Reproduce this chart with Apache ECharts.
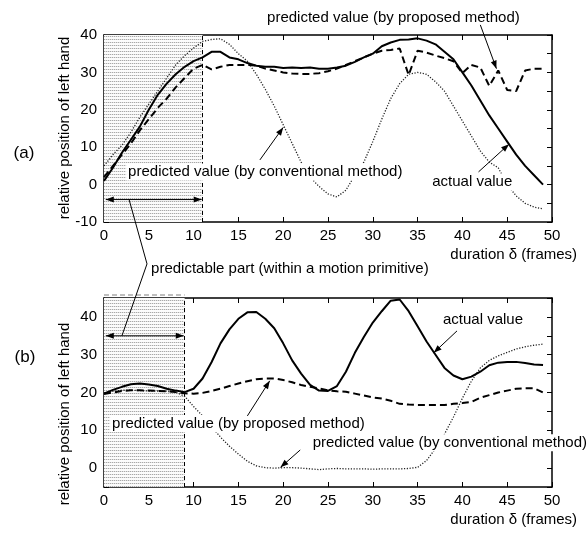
<!DOCTYPE html>
<html><head><meta charset="utf-8">
<script src="https://cdn.jsdelivr.net/npm/echarts@6/dist/echarts.min.js"></script>
<style>html,body{margin:0;padding:0;background:#fff}#c{width:588px;height:533px}</style>
</head><body><div id="c"></div><script>
const frames = [0,1,2,3,4,5,6,7,8,9,10,11,12,13,14,15,16,17,18,19,20,21,22,23,24,25,26,27,28,29,30,31,32,33,34,35,36,37,38,39,40,41,42,43,44,45,46,47,48,49];
// (a)
const topActual = [1,4.5,8.5,12,15.5,20,24,27,29.5,31.5,33,34,35.5,35.5,34,33.5,32.5,31.8,31.5,31.5,31.2,31.3,31.2,31.3,31,31,31.3,31.8,32.8,34,35,37,38,38.7,38.8,39.1,38.5,37.5,35.5,33.5,30,26.5,22.5,18.5,15,11.5,8,5,2.5,0];
const topProposed = [2,5,8,11,14.5,17.5,20.5,23,26,28.5,31,32,30.8,31.5,32,32,32,31.8,31,30.5,30,29.7,29.6,29.6,29.8,30.3,31,32,33,34,35,35.8,36,36.4,29.3,35.8,35.3,34.5,33.8,33,29.8,32,31.3,26.4,30.5,25.3,25,30.5,31,31];
const topConventional = [5,8,10.5,14,18,21.5,25,28.5,32,34.5,36.5,38.3,38.8,39,37.5,35,33,29.5,25.5,21,16,11,6,2,-0.5,-2.5,-3.3,-1.5,2.5,6,11.5,17.5,23,27,29.5,30,29.5,27.5,25,21,17,13,9,6,4.5,0,-3,-5,-6,-6.5];
// (b)
const botActual = [19.7,20.7,21.5,22.2,22.4,22.1,21.7,21,20.5,20.1,21,23.7,28,33,36.7,39.5,41.2,41.3,39.5,37,33,28.5,25,22,20.5,20.4,21.7,25.5,30.5,34.7,38.5,41.5,44.3,44.6,41.5,37.5,33.5,30,26.5,24.5,23.5,24.2,25.5,27.2,27.9,28.1,28.1,27.8,27.4,27.3];
const botProposed = [19.6,20,20.4,20.6,20.6,20.5,20.4,20.3,20.1,19.8,19.7,19.9,20.4,21,21.7,22.4,23,23.5,23.7,23.7,23.3,22.7,22,21.5,21.1,20.6,20.3,20.2,19.7,19.2,18.7,18.4,17.8,17,16.8,16.7,16.7,16.7,16.7,17,17.2,17.5,18.6,19.3,20,20.5,21,21.1,21.1,20];
const botConventional = [19.9,20.3,20.6,20.6,20.5,20.4,20.4,20.3,20.1,19,16.3,13.8,11,8.2,5.8,3.7,1.8,0.6,0.1,0,0.1,0.1,0,-0.2,-0.4,-0.2,-0.1,-0.2,-0.2,-0.2,-0.3,-0.2,-0.2,-0.2,-0.1,0.2,2,5.2,9,13.5,18.5,23,26.5,28.5,29.7,30.6,31.5,32.1,32.5,32.8];
const predictableEnd = [11, 9];
const xRange = [0, 50];
const yRangeTop = [-10, 40];
const yRangeBot = [-5, 45];
const xLabel = 'duration \u03b4 (frames)';
const yLabel = 'relative position of left hand';

const FONT = '"Liberation Sans", Arial, sans-serif';
const chart = echarts.init(document.getElementById('c'), null, {renderer: 'canvas'});

function pattern() {
  const c = document.createElement('canvas');
  c.width = 2; c.height = 3;
  const ctx = c.getContext('2d');
  ctx.fillStyle = '#fbfbfb'; ctx.fillRect(0, 0, 2, 3);
  ctx.fillStyle = '#a8a8a8'; ctx.fillRect(0, 0, 1, 1);
  ctx.fillStyle = '#e2e2e2'; ctx.fillRect(1, 0, 1, 1);
  return c;
}
const pat = pattern();

const pair = arr => frames.map((f, i) => [f, arr[i]]);
const labFmt = v => (v % 10 === 0 ? String(v) : '');

function xAx(g, pos) {
  return {gridIndex: g, type: 'value', position: pos, min: xRange[0], max: xRange[1], interval: 5,
    axisLine: {show: true, onZero: false, lineStyle: {color: '#000', width: 1.5}},
    axisTick: {show: true, inside: true, length: 5, lineStyle: {color: '#000', width: 1}},
    axisLabel: {show: pos === 'bottom', color: '#000', fontSize: 15, fontFamily: FONT, margin: 6},
    splitLine: {show: false}};
}
function yAx(g, pos, r) {
  return {gridIndex: g, type: 'value', position: pos, min: r[0], max: r[1], interval: 5,
    axisLine: {show: true, onZero: false, lineStyle: {color: '#000', width: 1.5}},
    axisTick: {show: true, inside: true, length: 5, lineStyle: {color: '#000', width: 1}},
    axisLabel: {show: pos === 'left', color: '#000', fontSize: 15, fontFamily: FONT, margin: 7, formatter: labFmt},
    splitLine: {show: false}};
}
function line(g, arr, kind, extra) {
  const st = {solid: {width: 2, type: 'solid', color: '#000'},
              dashed: {width: 2, type: [7, 4], color: '#000'},
              dotted: {width: 1.3, type: [1.2, 1.6], color: '#222'}}[kind];
  return Object.assign({type: 'line', xAxisIndex: g * 2, yAxisIndex: g * 2, data: pair(arr), showSymbol: false,
    symbol: 'none', lineStyle: st, silent: true, animation: false, clip: true,
    z: kind === 'solid' ? 4 : (kind === 'dashed' ? 3 : 2)}, extra || {});
}
function shade(g) {
  return {
    markArea: {silent: true, itemStyle: {color: {image: pat, repeat: 'repeat'}}, data: [[{xAxis: 0}, {xAxis: predictableEnd[g]}]]},
    markLine: {silent: true, symbol: 'none', label: {show: false}, lineStyle: {color: '#000', type: [4, 3], width: 1}, data: [{xAxis: predictableEnd[g]}]}
  };
}

chart.setOption({
  animation: false,
  backgroundColor: '#fff',
  grid: [{left: 104, top: 35, width: 448, height: 187}, {left: 104, top: 298, width: 448, height: 189}],
  xAxis: [xAx(0, 'bottom'), xAx(0, 'top'), xAx(1, 'bottom'), xAx(1, 'top')],
  yAxis: [yAx(0, 'left', yRangeTop), yAx(0, 'right', yRangeTop), yAx(1, 'left', yRangeBot), yAx(1, 'right', yRangeBot)],
  series: [
    line(0, topConventional, 'dotted', shade(0)), line(0, topProposed, 'dashed'), line(0, topActual, 'solid'),
    line(1, botConventional, 'dotted', shade(1)), line(1, botProposed, 'dashed'), line(1, botActual, 'solid')
  ]
});

function P(g, pt) { return chart.convertToPixel({xAxisIndex: g * 2, yAxisIndex: g * 2}, pt); }

const els = [];
function text(str, x, y, opts) {
  els.push(Object.assign({type: 'text', x: x, y: y, z: 50,
    style: Object.assign({text: str, font: '15px ' + FONT, fill: '#000', align: 'center', verticalAlign: 'middle',
      backgroundColor: '#fff', padding: [1, 2]}, (opts && opts.style) || {})},
    opts && opts.rotation ? {rotation: opts.rotation} : {}));
}
function head(tip, from) {
  const dx = tip[0] - from[0], dy = tip[1] - from[1], L = Math.hypot(dx, dy);
  const ux = dx / L, uy = dy / L, len = 8, w = 3;
  const bx = tip[0] - ux * len, by = tip[1] - uy * len;
  els.push({type: 'polygon', z: 60, shape: {points: [tip, [bx - uy * w, by + ux * w], [bx + uy * w, by - ux * w]]}, style: {fill: '#000'}});
}
function arrow(a, b, both) {
  els.push({type: 'polyline', z: 60, shape: {points: [a, b]}, style: {stroke: '#000', lineWidth: 1, fill: null}});
  head(b, a);
  if (both) head(a, b);
}

// annotations (a)
let p;
p = P(0, [32.3, 44.5]); text('predicted value (by proposed method)', p[0], p[1]);
arrow(P(0, [42, 42.7]), P(0, [43.8, 31.0]));
p = P(0, [18, 3.4]); text('predicted value (by conventional method)', p[0], p[1]);
arrow(P(0, [17.4, 6.6]), P(0, [20, 15.3]));
p = P(0, [41.1, 0.7]); text('actual value', p[0], p[1]);
arrow(P(0, [41.8, 3.4]), P(0, [45.2, 10.8]));
arrow(P(0, [0.2, -4]), P(0, [predictableEnd[0] - 0.1, -4]), true);
// annotations (b)
p = P(1, [42.3, 39.3]); text('actual value', p[0], p[1]);
arrow(P(1, [39.4, 36.3]), P(1, [36.8, 30.5]));
p = P(1, [15.0, 11.8]); text('predicted value (by proposed method)', p[0], p[1]);
arrow(P(1, [16, 13.8]), P(1, [18.5, 23.1]));
p = P(1, [38.6, 6.7]); text('predicted value (by conventional method)', p[0], p[1]);
arrow(P(1, [21.9, 4.8]), P(1, [19.7, 0.2]));
arrow(P(1, [0.2, 35]), P(1, [predictableEnd[1] - 0.1, 35]), true);
// gray dashed edge above the predictable part of (b)
{
  const a = P(1, [0, 45]), b = P(1, [predictableEnd[1], 45]);
  els.push({type: 'polyline', z: 40, shape: {points: [[a[0], a[1] - 3], [b[0], b[1] - 3]]}, style: {stroke: '#aaa', lineWidth: 1.5, lineDash: [5, 3], fill: null}});
}
// bracket linking both predictable parts
els.push({type: 'polyline', z: 60, shape: {points: [P(0, [2.8, -4]), P(0, [4.8, -21.2]), P(1, [2, 35])]}, style: {stroke: '#000', lineWidth: 1, fill: null}});
p = P(0, [5.25, -22.6]); text('predictable part (within a motion primitive)', p[0], p[1], {style: {align: 'left', backgroundColor: null, padding: 0}});
// axis names
p = P(0, [52.8, -18.8]); text(xLabel, p[0], p[1], {style: {align: 'right', backgroundColor: null, padding: 0}});
p = P(1, [52.8, -13.8]); text(xLabel, p[0], p[1], {style: {align: 'right', backgroundColor: null, padding: 0}});
text(yLabel, 65, 128, {rotation: Math.PI / 2, style: {backgroundColor: null, padding: 0}});
text(yLabel, 65, 414, {rotation: Math.PI / 2, style: {backgroundColor: null, padding: 0}});
text('(a)', 24, 153, {style: {font: '17px ' + FONT, backgroundColor: null, padding: 0}});
text('(b)', 25, 357, {style: {font: '17px ' + FONT, backgroundColor: null, padding: 0}});

chart.setOption({graphic: {elements: els}});
</script></body></html>
